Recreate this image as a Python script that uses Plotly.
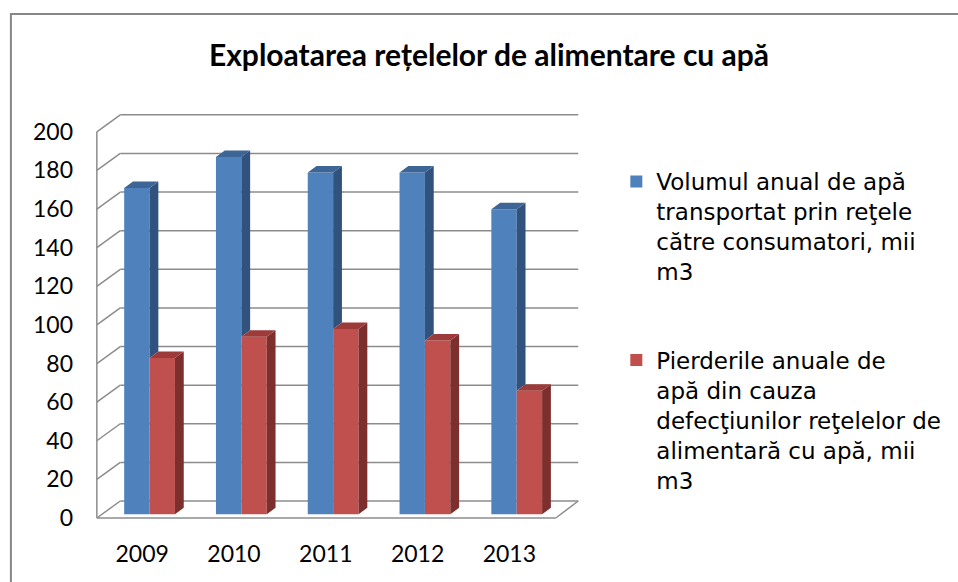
import plotly.graph_objects as go

# ---------------- data ----------------
years = ["2009", "2010", "2011", "2012", "2013"]
volum_transportat = [169, 185, 177, 177, 158]
pierderi = [81, 92, 96, 90, 64]
y_ticks = [0, 20, 40, 60, 80, 100, 120, 140, 160, 180, 200]
name_blue = "Volumul anual de apă<br>transportat prin reţele<br>către consumatori, mii<br>m3"
name_red = "Pierderile anuale de<br>apă din cauza<br>defecţiunilor reţelelor de<br>alimentară cu apă, mii<br>m3"
title_text = "Exploatarea rețelelor de alimentare cu apă"

# ---------------- geometry / style ----------------
W_PX, H_PX = 958, 582
L, R, T, B = 90, 600, 105, 525          # plot area in pixels
PXX = 94.0                              # pixels per category
PXY = 1.931                             # pixels per value unit
X0PX, Y0PX = 151, 518                   # pixel of category 0 / value 0 (front plane)
x_rng = [(L - X0PX) / PXX, (R - X0PX) / PXX]
y_rng = [(Y0PX - B) / PXY, (Y0PX - T) / PXY]

BW = 26 / PXX                  # bar width
B0 = 3.7 / PXY                 # bar front-face base offset
BDX, BDY = 9 / PXX, 6.5 / PXY  # bar depth
WDX, WDY = 24 / PXX, 17 / PXY  # wall depth
XL = (97 - X0PX) / PXX         # front-left edge
XRF = (567 - X0PX) / PXX       # front-right floor corner
XRB = (590 - X0PX) / PXX       # back-right end

BLUE, BLUE_SIDE, BLUE_TOP = "#4F81BD", "#30527C", "#3D6596"
RED, RED_SIDE, RED_TOP = "#C0504D", "#7D2F2D", "#9C3B39"
GRID = "#8C8C8C"

xs = list(range(len(years)))

fig = go.Figure()

# front faces (bars)
fig.add_trace(go.Bar(x=xs, y=volum_transportat, base=B0, width=BW, offset=-BW,
                     marker=dict(color=BLUE, line=dict(width=0)), name=name_blue,
                     legendgroup="a"))
fig.add_trace(go.Bar(x=xs, y=pierderi, base=B0, width=BW, offset=0,
                     marker=dict(color=RED, line=dict(width=0)), name=name_red,
                     legendgroup="b"))


def poly_trace(polys, color):
    px, py = [], []
    for p in polys:
        for (a, b) in p:
            px.append(a)
            py.append(b)
        px.append(p[0][0]); py.append(p[0][1])
        px.append(None); py.append(None)
    return go.Scatter(x=px, y=py, mode="lines", fill="toself", fillcolor=color,
                      line=dict(width=0, color=color), showlegend=False, hoverinfo="skip")


blue_top, blue_side, red_top, red_side = [], [], [], []
for i, (vb, vr) in enumerate(zip(volum_transportat, pierderi)):
    tb, tr = vb + B0, vr + B0
    blue_top.append([(i - BW, tb), (i, tb), (i + BDX, tb + BDY), (i - BW + BDX, tb + BDY)])
    low = max(tr, B0)
    if tb > low:
        blue_side.append([(i, low), (i + BDX, low + BDY), (i + BDX, tb + BDY), (i, tb)])
    red_top.append([(i, tr), (i + BW, tr), (i + BW + BDX, tr + BDY), (i + BDX, tr + BDY)])
    red_side.append([(i + BW, B0), (i + BW + BDX, B0 + BDY), (i + BW + BDX, tr + BDY), (i + BW, tr)])

fig.add_trace(poly_trace(blue_side, BLUE_SIDE))
fig.add_trace(poly_trace(blue_top, BLUE_TOP))
fig.add_trace(poly_trace(red_side, RED_SIDE))
fig.add_trace(poly_trace(red_top, RED_TOP))

# walls / grid as shapes below traces
shapes = []
for v in y_ticks:
    shapes.append(dict(type="line", xref="x", yref="y", x0=XL, y0=v, x1=XL + WDX, y1=v + WDY,
                       line=dict(color=GRID, width=1.5), layer="below"))
    shapes.append(dict(type="line", xref="x", yref="y", x0=XL + WDX, y0=v + WDY, x1=XRB, y1=v + WDY,
                       line=dict(color=GRID, width=1.5), layer="below"))
shapes.append(dict(type="line", xref="x", yref="y", x0=XL, y0=0, x1=XL, y1=y_ticks[-1],
                   line=dict(color=GRID, width=1.5), layer="below"))
shapes.append(dict(type="line", xref="x", yref="y", x0=XL, y0=0, x1=XRF, y1=0,
                   line=dict(color=GRID, width=1.5), layer="below"))
shapes.append(dict(type="line", xref="x", yref="y", x0=XRF, y0=0, x1=XRB, y1=WDY,
                   line=dict(color=GRID, width=1.5), layer="below"))
# outer chart border
pw, ph = R - L, B - T
shapes.append(dict(type="rect", xref="paper", yref="paper",
                   x0=(9 - L) / pw, x1=(1100 - L) / pw,
                   y0=(B - 700) / ph, y1=(B - 14) / ph,
                   line=dict(color="#878787", width=2), layer="below"))

fig.update_layout(
    width=W_PX, height=H_PX,
    margin=dict(l=L, r=W_PX - R, t=T, b=H_PX - B),
    paper_bgcolor="white", plot_bgcolor="rgba(0,0,0,0)",
    barmode="overlay",
    shapes=shapes,
    title=dict(text="<b>" + title_text + "</b>", x=489 / W_PX, xref="container", xanchor="center",
               y=1 - 55 / H_PX, yref="container", yanchor="middle",
               font=dict(family="Lato", size=30, color="#000000")),
    xaxis=dict(range=x_rng, tickmode="array", tickvals=[i - 0.08 for i in xs], ticktext=years,
               showgrid=False, zeroline=False, showline=False, ticks="",
               ticklabelstandoff=13,
               tickfont=dict(family="Lato", size=23, color="#000000"), fixedrange=True),
    yaxis=dict(range=y_rng, tickmode="array", tickvals=y_ticks, ticktext=[str(v) for v in y_ticks],
               showgrid=False, zeroline=False, showline=False, ticks="",
               ticklabelstandoff=16,
               tickfont=dict(family="Lato", size=23, color="#000000"), fixedrange=True),
    legend=dict(x=(629 - L) / pw, xanchor="left", y=(B - 160) / ph, yanchor="top",
                traceorder="grouped", tracegroupgap=56, valign="top",
                font=dict(family="DejaVu Sans", size=23, color="#000000"),
                bgcolor="rgba(0,0,0,0)"),
    showlegend=True,
)

fig.write_html("out.html", config={"displayModeBar": False},
               post_script="document.body.style.margin='0px';document.body.style.overflow='hidden';")
